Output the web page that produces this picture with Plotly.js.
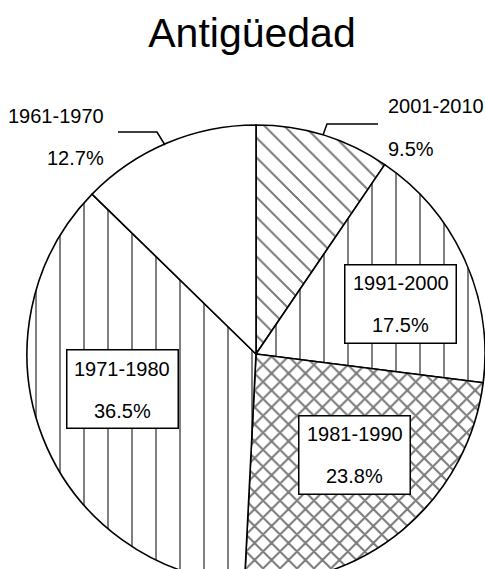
<!DOCTYPE html>
<html>
<head>
<meta charset="utf-8">
<script src="https://cdn.plot.ly/plotly-3.0.1.min.js"></script>
<style>
  html, body { margin: 0; padding: 0; overflow: hidden; background: #fff; }
  #chart { width: 500px; height: 620px; }
  /* crisp hatch strokes */
  #chart pattern path { shape-rendering: crispEdges; }
</style>
</head>
<body>
<div id="chart"></div>
<script>
// Building age groups and their share of the total
const periods = ['2001-2010', '1991-2000', '1981-1990', '1971-1980', '1961-1970'];
const shares = [9.5, 17.5, 23.8, 36.5, 12.7];

// Fill pattern per slice
const patternShapes = ['\\', '|', 'x', '|', ''];
const patternSizes = [14, 24, 12, 24, 8];
const patternSolidity = [0.16, 0.12, 0.25, 0.12, 0.1];

const W = 500, H = 620;
const FONT = 'Liberation Sans, Arial, sans-serif';
const px = x => x / W;
const py = y => 1 - y / H;

// pie geometry in pixels
const cx = 256, cy = 354, R = 229;

// label placement (pixels): boxed labels inside, plain labels outside
const boxed = {
  '1991-2000': [400.5, 304],
  '1981-1990': [354.5, 454.5],
  '1971-1980': [122, 389.5]
};
const outside = {
  '2001-2010': {x: 386, y: 106.5, anchor: 'left'},
  '1961-1970': {x: 106, y: 116.5, anchor: 'right'}
};
const LINE_GAP = 42;

const annotations = [];
periods.forEach((p, i) => {
  const pct = shares[i].toFixed(1) + '%';
  if (boxed[p]) {
    const [bx, by] = boxed[p];
    annotations.push({
      xref: 'paper', yref: 'paper', x: px(bx), y: py(by),
      xanchor: 'center', yanchor: 'middle', showarrow: false,
      text: ' ', width: 110, height: 77, borderpad: 0,
      bgcolor: '#fff', bordercolor: '#000', borderwidth: 1.5,
      font: {family: FONT, size: 20, color: '#000'}
    });
    [[p, by - LINE_GAP / 2], [pct, by + LINE_GAP / 2]].forEach(([t, ty]) => {
      annotations.push({
        xref: 'paper', yref: 'paper', x: px(bx), y: py(ty),
        xanchor: 'center', yanchor: 'middle', showarrow: false,
        text: t, font: {family: FONT, size: 20, color: '#000'}
      });
    });
  } else if (outside[p]) {
    const o = outside[p];
    [[p, o.y], [pct, o.y + LINE_GAP]].forEach(([t, ty]) => {
      annotations.push({
        xref: 'paper', yref: 'paper', x: px(o.x), y: py(ty),
        xanchor: o.anchor, yanchor: 'middle', showarrow: false,
        text: t, font: {family: FONT, size: 20, color: '#000'}
      });
    });
  }
});

// leader lines for the outside labels
const toPath = pts => pts.map((q, k) => (k ? 'L' : 'M') + px(q[0]) + ',' + py(q[1])).join(' ');
const shapes = [
  [[323, 135], [327, 124], [378, 124]],
  [[118, 132], [157, 132], [165, 145]]
].map(pts => ({
  type: 'path', xref: 'paper', yref: 'paper', path: toPath(pts),
  line: {color: '#000', width: 1.5}
}));

const trace = {
  type: 'pie',
  labels: periods,
  values: shares,
  sort: false,
  direction: 'clockwise',
  rotation: 0,
  textinfo: 'none',
  hoverinfo: 'none',
  showlegend: false,
  domain: {x: [px(cx - R), px(cx + R)], y: [py(cy + R), py(cy - R)]},
  marker: {
    colors: periods.map(() => '#ffffff'),
    line: {color: '#000', width: 1.6},
    pattern: {
      shape: patternShapes,
      size: patternSizes,
      solidity: patternSolidity,
      fgcolor: '#000',
      bgcolor: '#fff',
      fillmode: 'overlay'
    }
  }
};

const layout = {
  width: W, height: H,
  margin: {l: 0, r: 0, t: 0, b: 0},
  paper_bgcolor: '#fff',
  plot_bgcolor: '#fff',
  title: {
    text: 'Antigüedad',
    font: {family: FONT, size: 41, color: '#000'},
    xref: 'paper', yref: 'paper',
    x: px(252), y: py(33), xanchor: 'center', yanchor: 'middle'
  },
  annotations: annotations,
  shapes: shapes
};

Plotly.newPlot('chart', [trace], layout, {staticPlot: true, displayModeBar: false});
</script>
</body>
</html>
